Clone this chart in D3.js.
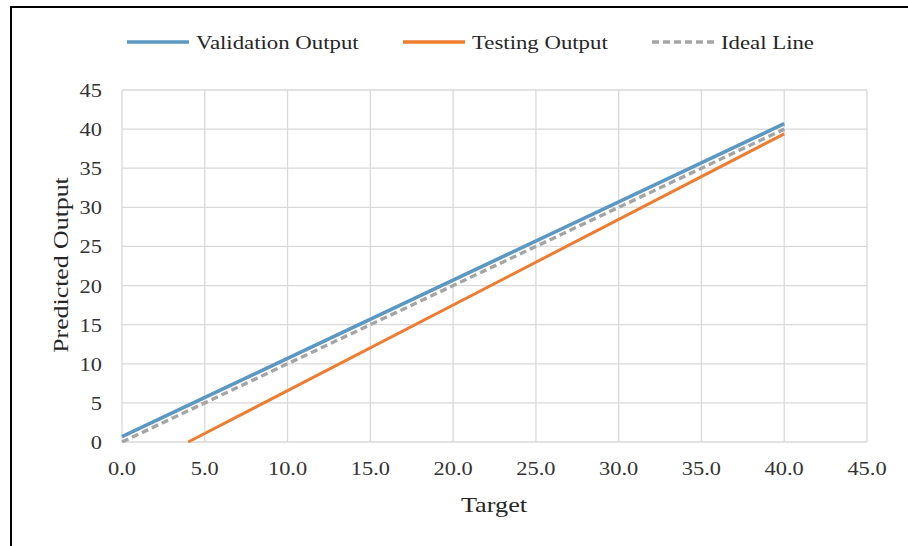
<!DOCTYPE html>
<html><head><meta charset="utf-8">
<script src="https://cdn.jsdelivr.net/npm/d3@7"></script>
<style>body{margin:0;background:#fff;}svg{display:block;font-family:"Liberation Serif","Times New Roman",serif;}</style>
</head><body>
<svg id="c" width="908" height="546"></svg>
<script>
const xTicks = [0,5,10,15,20,25,30,35,40,45];
const yTicks = [0,5,10,15,20,25,30,35,40,45];
const validationX = [0, 40];
const validationY = [0.7, 40.7];
const testingX = [4.0, 40];
const testingY = [0, 39.4];
const idealX = [0, 40];
const idealY = [0, 40];
const seriesNames = ["Validation Output","Testing Output","Ideal Line"];
const seriesColors = ["#5b98c2","#ed7d31","#a5a5a5"];

const svg = d3.select("#c");
svg.append("rect").attr("x",0).attr("y",0).attr("width",908).attr("height",546).attr("fill","#fff");
svg.append("line").attr("x1",11).attr("x2",908).attr("y1",7).attr("y2",7).attr("stroke","#000").attr("stroke-width",2);
svg.append("line").attr("x1",11).attr("x2",11).attr("y1",6).attr("y2",546).attr("stroke","#000").attr("stroke-width",2);

const x = d3.scaleLinear().domain([0,45]).range([122,867]);
const y = d3.scaleLinear().domain([0,45]).range([442,90]);

function label(parent, tx, ty, str, size, sx, anchor, rot, fill){
  const gg = parent.append("g").attr("transform",`translate(${tx},${ty})${rot?` rotate(${rot})`:""} scale(${sx},1)`);
  gg.append("text").attr("x",0).attr("y",0).attr("text-anchor",anchor).attr("font-size",size).attr("fill",fill||"#262626").text(str);
  return gg;
}

const g = svg.append("g");
g.selectAll(".vg").data(xTicks).join("line").attr("x1",d=>x(d)).attr("x2",d=>x(d)).attr("y1",y(0)).attr("y2",y(45)).attr("stroke","#d9d9d9").attr("stroke-width",1.3);
g.selectAll(".hg").data(yTicks).join("line").attr("x1",x(0)).attr("x2",x(45)).attr("y1",d=>y(d)).attr("y2",d=>y(d)).attr("stroke","#d9d9d9").attr("stroke-width",1.3);

xTicks.forEach(d=>label(g, x(d), 475, d.toFixed(1), 19, 1.18, "middle", 0, "#333"));
yTicks.forEach(d=>label(g, 102, y(d)+7, String(d), 19, 1.18, "end", 0, "#333"));

const line = d3.line().x(d=>x(d[0])).y(d=>y(d[1]));
const series = [
  {xs:validationX, ys:validationY, dash:null, w:3.6},
  {xs:testingX, ys:testingY, dash:null, w:3},
  {xs:idealX, ys:idealY, dash:"7,4", w:3.4}
];
series.forEach((s,i)=>{
  g.append("path").datum(s.xs.map((v,j)=>[v,s.ys[j]])).attr("d",line).attr("fill","none")
   .attr("stroke",seriesColors[i]).attr("stroke-width",s.w).attr("stroke-dasharray",s.dash);
});

const legX = [127, 403, 652];
seriesNames.forEach((n,i)=>{
  svg.append("line").attr("x1",legX[i]).attr("x2",legX[i]+62).attr("y1",42).attr("y2",42)
    .attr("stroke",seriesColors[i]).attr("stroke-width",3.4).attr("stroke-dasharray",i===2?"7,4":null);
  label(svg, legX[i]+69, 49, n, 19, 1.2, "start", 0, "#262626");
});

label(svg, 494, 512, "Target", 21, 1.25, "middle", 0, "#262626");
label(svg, 68, 265, "Predicted Output", 21, 1.23, "middle", -90, "#262626");
</script>
</body></html>
